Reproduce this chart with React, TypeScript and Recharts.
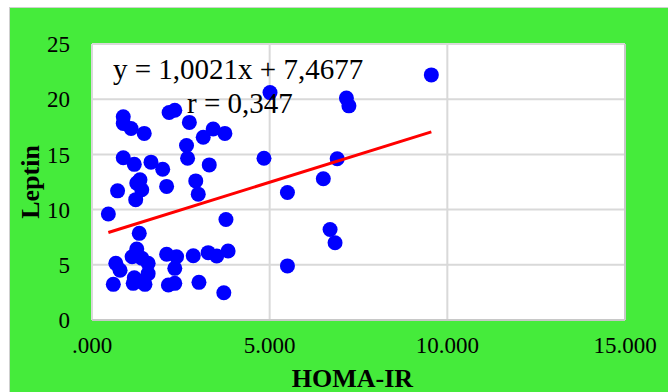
import React from "react";
import {
  ScatterChart,
  Scatter,
  XAxis,
  YAxis,
  CartesianGrid,
  Label,
  ReferenceLine,
} from "recharts";

const homaIr = [
  0.46, 0.72, 0.88, 0.88, 1.1, 1.47, 0.88, 1.19, 1.66, 1.99, 1.35, 1.26, 1.4, 1.23,
  2.1, 2.17, 2.33, 2.74, 2.66, 2.69, 2.92, 2.99, 3.13, 3.41, 3.74, 3.3, 3.77, 1.33,
  0.67, 0.79, 0.6, 1.26, 1.13, 1.4, 1.58, 1.58, 1.19, 1.16, 1.49, 1.35, 2.1, 2.38,
  2.33, 2.15, 2.33, 2.85, 3.27, 3.51, 3.83, 3.01, 3.71,
  4.84, 5.01, 5.5, 5.5, 6.51, 6.9, 7.16, 7.23, 6.7, 6.84, 9.55,
];
const leptin = [
  9.6, 11.7, 18.4, 17.8, 17.35, 16.9, 14.7, 14.1, 14.3, 13.65, 12.7, 12.4, 11.8, 10.9,
  12.1, 18.8, 19.0, 17.9, 15.8, 14.65, 12.6, 11.4, 16.55, 17.3, 16.9, 14.05, 9.1, 7.85,
  5.13, 4.5, 3.23, 6.43, 5.73, 5.6, 5.13, 4.2, 3.83, 3.32, 3.23, 3.5, 5.95, 5.73,
  4.68, 3.17, 3.32, 5.82, 6.1, 5.8, 6.25, 3.41, 2.47,
  14.65, 20.6, 11.55, 4.9, 12.8, 14.6, 20.1, 19.4, 8.2, 7.0, 22.2,
];
const xTicks = [0, 5, 10, 15];
const yTicks = [0, 5, 10, 15, 20, 25];
const slope = 1.0021;
const intercept = 7.4677;

const points = homaIr.map((x, i) => ({ x, y: leptin[i] }));
const minX = Math.min(...homaIr);
const maxX = Math.max(...homaIr);
const trend = [minX, maxX].map((x) => ({ x, y: slope * x + intercept }));

const font = "Liberation Serif";

const Dot = (props: any) => (
  <circle cx={props.cx} cy={props.cy} r={7.5} fill="#0000FF" />
);

export default function App() {
  return (
    <div
      style={{
        position: "absolute",
        left: 0,
        top: 0,
        width: 668,
        height: 392,
        background: "#fff",
        fontFamily: font,
      }}
    >
      <style>{`svg text { font-family: "Liberation Serif", serif; }`}</style>
      <div
        style={{
          position: "absolute",
          left: 9,
          top: 7,
          width: 659,
          height: 385,
          background: "#45EB3B",
          borderLeft: "1px solid #cfcfcf",
          borderTop: "1px solid #cfcfcf",
          boxSizing: "border-box",
        }}
      />
      <div style={{ position: "absolute", left: 0, top: 0 }}>
        <ScatterChart
          width={668}
          height={392}
          margin={{ top: 44, right: 43, bottom: 0, left: 0 }}
        >
          <CartesianGrid fill="#fff" stroke="#d9d9d9" strokeWidth={2} />
          <XAxis
            type="number"
            dataKey="x"
            domain={[0, 15]}
            ticks={xTicks}
            tickFormatter={(v: number) => v.toFixed(3).replace(/^0/, "")}
            axisLine={false}
            tickLine={false}
            tickSize={0}
            tickMargin={17}
            height={72}
            tick={{ fill: "#000", fontSize: 23 }}
          >
            <Label
              value="HOMA-IR"
              position="insideBottom"
              offset={5}
              dx={-6}
              style={{ fill: "#000", fontSize: 26, fontWeight: "bold" }}
            />
          </XAxis>
          <YAxis
            type="number"
            dataKey="y"
            domain={[0, 25]}
            ticks={yTicks}
            axisLine={false}
            tickLine={false}
            tickSize={0}
            tickMargin={22}
            width={92}
            tick={{ fill: "#000", fontSize: 23 }}
          >
            <Label
              value="Leptin"
              position="insideLeft"
              angle={-90}
              offset={30}
              style={{ fill: "#000", fontSize: 26, fontWeight: "bold", textAnchor: "middle" }}
            />
          </YAxis>
          <ReferenceLine x={15} stroke="#c8c8c8" strokeWidth={2} />
          <ReferenceLine y={0} stroke="#c8c8c8" strokeWidth={2} />
          <Scatter data={points} shape={Dot} isAnimationActive={false} />
          <Scatter
            data={trend}
            line={{ stroke: "#FF0000", strokeWidth: 3 }}
            shape={() => <g />}
            isAnimationActive={false}
          />
        </ScatterChart>
      </div>
      <div
        style={{
          position: "absolute",
          left: 113,
          top: 55,
          fontSize: 29,
          lineHeight: 1,
          whiteSpace: "nowrap",
          color: "#000",
        }}
      >
        y = 1,0021x + 7,4677
      </div>
      <div
        style={{
          position: "absolute",
          left: 187,
          top: 89,
          fontSize: 29,
          lineHeight: 1,
          whiteSpace: "nowrap",
          color: "#000",
        }}
      >
        r = 0,347
      </div>
    </div>
  );
}
